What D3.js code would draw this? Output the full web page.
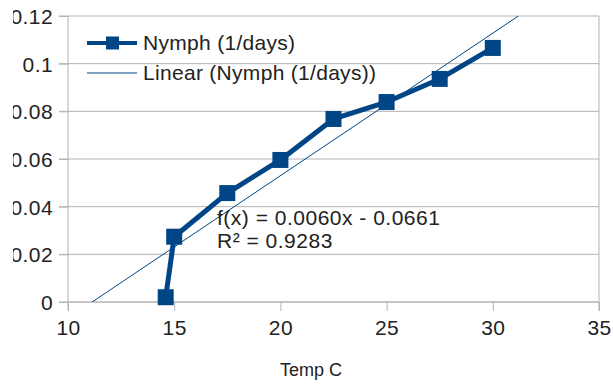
<!DOCTYPE html>
<html>
<head>
<meta charset="utf-8">
<script src="https://cdn.jsdelivr.net/npm/d3@7"></script>
<style>
  body { margin: 0; background: #fff; }
  svg { font-family: "Liberation Sans", Arial, sans-serif; }
</style>
</head>
<body>
<svg id="chart" width="613" height="384"></svg>
<script>
// data
var temps = [14.6, 15, 17.5, 20, 22.5, 25, 27.5, 30];
var rates = [0.002, 0.0274, 0.0457, 0.0596, 0.0768, 0.0839, 0.0936, 0.1066];
var xTicks = [10, 15, 20, 25, 30, 35];
var yTicks = [0, 0.02, 0.04, 0.06, 0.08, 0.1, 0.12];
var trendCoef = [0.00598, -0.0666];   // slope, intercept of drawn trend line
var trendText = ["f(x) = 0.0060x - 0.0661", "R\u00b2 = 0.9283"];
var seriesName = "Nymph (1/days)";
var trendName = "Linear (Nymph (1/days))";
var xTitle = "Temp C";

var svg = d3.select("#chart");
var margin = {top: 16, right: 14, bottom: 82, left: 68};
var width = +svg.attr("width") - margin.left - margin.right,
    height = +svg.attr("height") - margin.top - margin.bottom;
var blue = "#004586", grid = "#b3b3b3";

// left edge of the picture cuts the y labels
svg.append("clipPath").attr("id", "pageclip")
  .append("rect").attr("x", 13).attr("y", 0).attr("width", 600).attr("height", 384);

var root = svg.append("g").attr("clip-path", "url(#pageclip)");
var g = root.append("g").attr("transform", "translate(" + margin.left + "," + margin.top + ")");

var x = d3.scaleLinear().domain([10, 35]).range([0, width]);
var y = d3.scaleLinear().domain([0, 0.12]).range([height, 0]);

// horizontal grid
g.selectAll("line.grid")
  .data(yTicks)
  .enter().append("line")
  .attr("class", "grid")
  .attr("x1", -9).attr("x2", width)
  .attr("y1", (d) => y(d)).attr("y2", (d) => y(d))
  .attr("stroke", grid).attr("stroke-width", 1);

// right border
g.append("line")
  .attr("x1", width).attr("x2", width)
  .attr("y1", 0).attr("y2", height + 9)
  .attr("stroke", grid);

var xaxis = g.append("g")
  .attr("transform", "translate(0," + height + ")")
  .call(d3.axisBottom(x).tickValues(xTicks).tickSize(9).tickPadding(9).tickFormat(d3.format("d")));

var yaxis = g.append("g")
  .call(d3.axisLeft(y).tickValues(yTicks).tickSize(9).tickPadding(6).tickFormat((d) => String(+d.toFixed(2))));

[xaxis, yaxis].forEach(function(a) {
  a.select(".domain").attr("stroke", grid);
  a.selectAll(".tick line").attr("stroke", grid);
  a.selectAll(".tick text").attr("fill", "#222").style("font-size", "21px").style("letter-spacing", "0.4px");
});
xaxis.select(".domain").attr("d", "M0,0H" + width);
yaxis.select(".domain").attr("d", "M0,0V" + (height + 9));
yaxis.selectAll(".tick text").attr("dy", "0.35em");

// trend line, clipped to the plot
g.append("clipPath").attr("id", "plotclip")
  .append("rect").attr("width", width).attr("height", height);

var trendX = [-trendCoef[1] / trendCoef[0], (0.12 - trendCoef[1]) / trendCoef[0]];
g.append("path")
  .datum(trendX)
  .attr("clip-path", "url(#plotclip)")
  .attr("d", d3.line().x((d) => x(d)).y((d) => y(trendCoef[0] * d + trendCoef[1])))
  .attr("stroke", blue).attr("stroke-width", 1).attr("fill", "none");

// series
var pts = temps.map((t, i) => ({x: t, y: rates[i]}));
g.append("path")
  .datum(pts)
  .attr("d", d3.line().x((d) => x(d.x)).y((d) => y(d.y)))
  .attr("stroke", blue).attr("stroke-width", 5)
  .attr("stroke-linejoin", "round").attr("fill", "none");

g.selectAll("rect.marker")
  .data(pts)
  .enter().append("rect")
  .attr("class", "marker")
  .attr("x", (d) => x(d.x) - 8).attr("y", (d) => y(d.y) - 8)
  .attr("width", 16).attr("height", 16)
  .attr("fill", blue);

// regression text
g.selectAll("text.eq")
  .data(trendText)
  .enter().append("text")
  .attr("class", "eq")
  .attr("x", 149).attr("y", (d, i) => 209 + i * 23)
  .attr("fill", "#222").style("font-size", "21px").style("letter-spacing", "0.5px")
  .text((d) => d);

// legend
var legend = g.append("g").attr("transform", "translate(19,27)");
legend.append("line").attr("x1", 0).attr("x2", 50).attr("stroke", blue).attr("stroke-width", 4);
legend.append("rect").attr("x", 19).attr("y", -6.5).attr("width", 13).attr("height", 13).attr("fill", blue);
legend.append("line").attr("x1", 0).attr("x2", 50).attr("y1", 30).attr("y2", 30).attr("stroke", blue).attr("stroke-width", 1);
legend.selectAll("text")
  .data([seriesName, trendName])
  .enter().append("text")
  .attr("x", 56).attr("y", (d, i) => i * 30)
  .attr("dy", "0.35em")
  .attr("fill", "#222").style("font-size", "21px").style("letter-spacing", "0.3px")
  .text((d) => d);

// axis title
svg.append("text")
  .attr("x", 311).attr("y", 376)
  .attr("text-anchor", "middle")
  .attr("fill", "#222").style("font-size", "18px")
  .text(xTitle);
</script>
</body>
</html>
